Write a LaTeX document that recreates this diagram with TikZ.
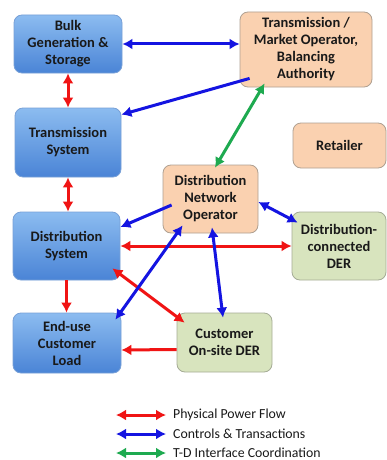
\documentclass[tikz,border=0pt]{standalone}
\usepackage{fontspec}
\setmainfont{Carlito}
\usetikzlibrary{arrows.meta,calc}
\definecolor{bluetop}{RGB}{140,188,240}
\definecolor{bluebot}{RGB}{74,132,214}
\definecolor{blueedge}{RGB}{120,160,215}
\definecolor{orfill}{RGB}{250,209,176}
\definecolor{oredge}{RGB}{175,160,145}
\definecolor{grfill}{RGB}{216,228,190}
\definecolor{gredge}{RGB}{165,172,150}
\definecolor{pred}{RGB}{240,20,20}
\definecolor{pblue}{RGB}{20,20,225}
\definecolor{pgreen}{RGB}{30,170,80}
\definecolor{txt}{RGB}{25,25,25}
\tikzset{
  box/.style={rounded corners=8pt, align=center, font=\bfseries\fontsize{14.5}{17}\selectfont, text=txt, inner sep=1pt, line width=0.8pt},
  bluebox/.style={box, draw=blueedge, top color=bluetop, bottom color=bluebot},
  orbox/.style={box, draw=oredge, fill=orfill},
  grbox/.style={box, draw=gredge, fill=grfill},
  conn/.style={line width=3pt},
  both/.style={conn, {Latex[length=10pt,width=11pt]}-{Latex[length=10pt,width=11pt]}},
  one/.style={conn, -{Latex[length=10pt,width=11pt]}},
  legtext/.style={anchor=west, font=\fontsize{13.8}{16}\selectfont, text=txt, inner sep=0pt}
}
\begin{document}
\begin{tikzpicture}[x=1pt,y=-1pt]
\useasboundingbox[fill=white] (0,0) rectangle (387,460);
% nodes
\node[bluebox, minimum width=108pt, minimum height=58pt] (bulk) at (68,44) {Bulk\\Generation \&\\Storage};
\node[bluebox, minimum width=106pt, minimum height=69pt] (trans) at (68,142.5) {Transmission\\System};
\node[bluebox, minimum width=107pt, minimum height=68pt] (dist) at (66.5,246) {Distribution\\System};
\node[bluebox, minimum width=108pt, minimum height=60pt] (enduse) at (67,343) {End-use\\Customer\\Load};
\node[orbox, minimum width=132pt, minimum height=75pt] (tmo) at (306,49.5) {Transmission /\\Market Operator,\\Balancing\\Authority};
\node[orbox, minimum width=93pt, minimum height=45pt] (ret) at (339.5,145.5) {Retailer};
\node[orbox, minimum width=95pt, minimum height=68pt] (dno) at (210.5,199) {Distribution\\Network\\Operator};
\node[grbox, minimum width=94pt, minimum height=68pt] (dcder) at (339,246) {Distribution-\\connected\\DER};
\node[grbox, minimum width=95pt, minimum height=59pt] (cosder) at (224.5,342.5) {Customer\\On-site DER};
% connectors
\draw[both, pblue] (bulk.east) -- (tmo.west |- bulk.east);
\draw[one, pblue] ([xshift=10pt,yshift=9pt]tmo.south west) -- ([yshift=-7pt]trans.north east);
\draw[both, pred] (bulk.south) -- (trans.north);
\draw[both, pred] (trans.south) -- (trans.south |- dist.north);
\draw[one, pblue] ([xshift=9pt,yshift=-6pt]dno.west) -- ([yshift=19pt]dist.east);
\draw[both, pred] (dcder.west) -- (dist.east);
\draw[both, pred] ([xshift=-8pt,yshift=12pt]dist.south east) -- ([xshift=8pt,yshift=-10pt]cosder.north west);
\draw[both, pblue] ([xshift=-6pt,yshift=-7pt]enduse.north east) -- ([xshift=20pt,yshift=8pt]dno.south west);
\draw[one, pred] (dist.south) -- (dist.south |- enduse.north);
\draw[one, pred] ([yshift=-7pt]cosder.west) -- ([yshift=-7pt]enduse.east);
\draw[both, pblue] ([xshift=1.5pt,yshift=6pt]dno.south) -- ([xshift=-1.5pt,yshift=-5pt]cosder.north);
\draw[both, pblue] ([yshift=-3pt]dno.east) -- ([xshift=6pt,yshift=-11pt]dcder.north west);
\draw[both, pgreen] ([xshift=25pt,yshift=4pt]tmo.south west) -- ([xshift=4.5pt,yshift=-3pt]dno.north);
% legend
\node[legtext] (l1) at (173,415) {Physical Power Flow};
\node[legtext] (l2) at (173,434) {Controls \& Transactions};
\node[legtext] (l3) at (173,453) {T-D Interface Coordination};
\coordinate (a1) at (116,415);
\coordinate (a2) at (116,434);
\coordinate (a3) at (116,453);
\draw[both, pred] (a1) -- ([xshift=-7pt]l1.west);
\draw[both, pblue] (a2) -- ([xshift=-7pt]l2.west);
\draw[both, pgreen] (a3) -- ([xshift=-7pt]l3.west);
\end{tikzpicture}
\end{document}
